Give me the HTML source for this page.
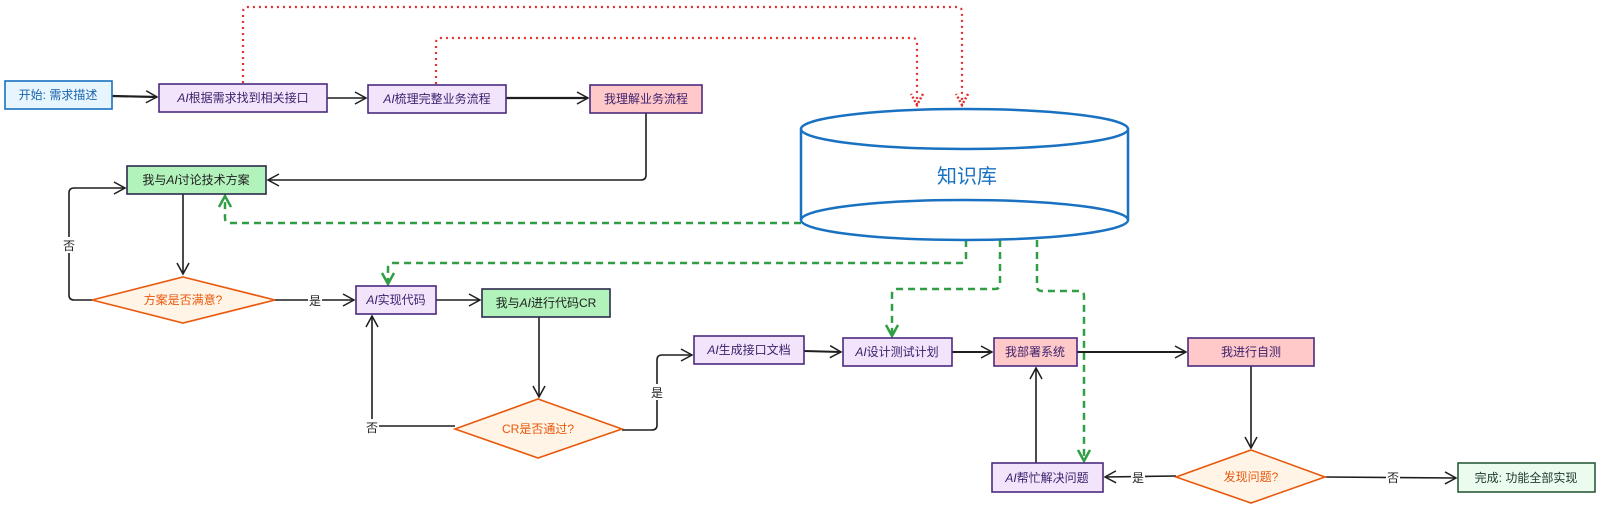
<!DOCTYPE html>
<html><head><meta charset="utf-8"><style>
html,body{margin:0;padding:0;background:#fff;}
svg{display:block;font-family:"Liberation Sans","Noto Sans CJK SC",sans-serif;}
</style></head><body>
<svg width="1600" height="509" viewBox="0 0 1600 509" xmlns="http://www.w3.org/2000/svg">
<defs>
<marker id="a" markerWidth="14" markerHeight="14" refX="12" refY="7" orient="auto" markerUnits="userSpaceOnUse"><path d="M1,1 L12,7 L1,13" fill="none" stroke="#1e1e1e" stroke-width="1.5"/></marker>
<marker id="g" markerWidth="14" markerHeight="14" refX="12" refY="7" orient="auto" markerUnits="userSpaceOnUse"><path d="M1,1 L12,7 L1,13" fill="none" stroke="#2f9e44" stroke-width="2.5"/></marker>
<marker id="r" markerWidth="14" markerHeight="14" refX="12" refY="7" orient="auto" markerUnits="userSpaceOnUse"><path d="M1,1 L12,7 L1,13" fill="none" stroke="#e03131" stroke-width="2.5" stroke-dasharray="2 2"/></marker>
</defs>

<!-- red dotted -->
<g fill="none" stroke="#e03131" stroke-width="2.2" stroke-dasharray="2 4">
<path d="M243,83 L243,12 Q243,7 248,7 L957,7 Q962,7 962,12 L962,105" marker-end="url(#r)"/>
<path d="M436,84 L436,43 Q436,38 441,38 L912,38 Q917,38 917,43 L917,105" marker-end="url(#r)"/>
</g>

<!-- green dashed -->
<g fill="none" stroke="#2f9e44" stroke-width="2.5" stroke-dasharray="7 5">
<path d="M801,223 L230,223 Q225,223 225,218 L225,196" marker-end="url(#g)"/>
<path d="M966,240 L966,258 Q966,263 961,263 L393,263 Q388,263 388,268 L388,284" marker-end="url(#g)"/>
<path d="M1000,240 L1000,284 Q1000,289 995,289 L897,289 Q892,289 892,294 L892,336" marker-end="url(#g)"/>
<path d="M1037,240 L1037,286 Q1037,291 1042,291 L1079,291 Q1084,291 1084,296 L1084,461" marker-end="url(#g)"/>
</g>

<!-- black connectors -->
<g fill="none" stroke="#1e1e1e" stroke-width="1.6">
<path d="M112,96 L157,97" marker-end="url(#a)" stroke-width="2.2"/>
<path d="M327,98 L366,98" marker-end="url(#a)"/>
<path d="M506,98 L588,98" marker-end="url(#a)" stroke-width="2.2"/>
<path d="M646,113 L646,175 Q646,180 641,180 L268,180" marker-end="url(#a)"/>
<path d="M183,194 L183,274" marker-end="url(#a)"/>
<path d="M92,300 L74,300 Q69,300 69,295 L69,193 Q69,188 74,188 L125,188" marker-end="url(#a)"/>
<path d="M275,300 L354,300" marker-end="url(#a)"/>
<path d="M436,300 L480,300" marker-end="url(#a)"/>
<path d="M539,317 L539,397" marker-end="url(#a)"/>
<path d="M455,426 L372,426 L372,316" marker-end="url(#a)"/>
<path d="M622,430 L652,430 Q657,430 657,425 L657,360 Q657,355 662,355 L692,355" marker-end="url(#a)"/>
<path d="M804,351 L841,352" marker-end="url(#a)" stroke-width="2"/>
<path d="M952,352 L992,352" marker-end="url(#a)" stroke-width="2"/>
<path d="M1077,352 L1186,352" marker-end="url(#a)" stroke-width="2"/>
<path d="M1251,366 L1251,448" marker-end="url(#a)"/>
<path d="M1036,463 L1036,368" marker-end="url(#a)"/>
<path d="M1176,476 L1105,477" marker-end="url(#a)"/>
<path d="M1325,477 L1456,478" marker-end="url(#a)"/>
</g>
<g font-size="12" fill="#1e1e1e" text-anchor="middle">
<rect x="62" y="237" width="14" height="16" fill="#fff"/><text x="69" y="250">否</text>
<rect x="308" y="292" width="14" height="16" fill="#fff"/><text x="315" y="305">是</text>
<rect x="365" y="419" width="14" height="16" fill="#fff"/><text x="372" y="432">否</text>
<rect x="650" y="384" width="14" height="16" fill="#fff"/><text x="657" y="397">是</text>
<rect x="1131" y="469" width="14" height="16" fill="#fff"/><text x="1138" y="482">是</text>
<rect x="1386" y="469" width="14" height="16" fill="#fff"/><text x="1393" y="482">否</text>
</g>

<!-- cylinder -->
<g fill="#fff" stroke="#1971c2" stroke-width="2.5">
<path d="M801,129 L801,220 A163.5,20 0 0 0 1128,220 L1128,129"/>
<ellipse cx="964.5" cy="129" rx="163.5" ry="20"/>
<path d="M801,220 A163.5,20 0 0 1 1128,220" fill="none"/>
</g>
<text x="967" y="183" font-size="20" fill="#1971c2" text-anchor="middle">知识库</text>

<!-- boxes -->
<g stroke-width="1.6" font-size="12" text-anchor="middle">
<rect x="5" y="81" width="107" height="28" fill="#e7f5ff" stroke="#1971c2"/><text x="58" y="99" fill="#1864ab" stroke="none">开始: 需求描述</text>
<rect x="159" y="84" width="168" height="28" fill="#f1e4fb" stroke="#4b2a7f"/><text x="243" y="102" fill="#3b1f6b" stroke="none"><tspan font-style="italic">AI</tspan>根据需求找到相关接口</text>
<rect x="368" y="85" width="138" height="28" fill="#f1e4fb" stroke="#4b2a7f"/><text x="437" y="103" fill="#3b1f6b" stroke="none"><tspan font-style="italic">AI</tspan>梳理完整业务流程</text>
<rect x="590" y="85" width="112" height="28" fill="#ffc9c9" stroke="#4b2a7f"/><text x="646" y="103" fill="#3b1f6b" stroke="none">我理解业务流程</text>
<rect x="127" y="166" width="139" height="28" fill="#b2f2bb" stroke="#2b2b4b"/><text x="196" y="184" fill="#1e1e1e" stroke="none">我与<tspan font-style="italic">AI</tspan>讨论技术方案</text>
<rect x="356" y="286" width="80" height="28" fill="#f1e4fb" stroke="#4b2a7f"/><text x="396" y="304" fill="#3b1f6b" stroke="none"><tspan font-style="italic">AI</tspan>实现代码</text>
<rect x="482" y="289" width="128" height="28" fill="#b2f2bb" stroke="#2b2b4b"/><text x="546" y="307" fill="#1e1e1e" stroke="none">我与<tspan font-style="italic">AI</tspan>进行代码CR</text>
<rect x="694" y="336" width="110" height="28" fill="#f1e4fb" stroke="#4b2a7f"/><text x="749" y="354" fill="#3b1f6b" stroke="none"><tspan font-style="italic">AI</tspan>生成接口文档</text>
<rect x="843" y="338" width="109" height="28" fill="#f1e4fb" stroke="#4b2a7f"/><text x="897" y="356" fill="#3b1f6b" stroke="none"><tspan font-style="italic">AI</tspan>设计测试计划</text>
<rect x="994" y="338" width="83" height="28" fill="#ffc9c9" stroke="#4b2a7f"/><text x="1035" y="356" fill="#3b1f6b" stroke="none">我部署系统</text>
<rect x="1188" y="338" width="126" height="28" fill="#ffc9c9" stroke="#4b2a7f"/><text x="1251" y="356" fill="#3b1f6b" stroke="none">我进行自测</text>
<rect x="992" y="463" width="111" height="29" fill="#f1e4fb" stroke="#4b2a7f"/><text x="1047" y="482" fill="#3b1f6b" stroke="none"><tspan font-style="italic">AI</tspan>帮忙解决问题</text>
<rect x="1458" y="463" width="137" height="29" fill="#ebfbee" stroke="#2b5b3b"/><text x="1526" y="482" fill="#1e3a2a" stroke="none">完成: 功能全部实现</text>
</g>

<!-- diamonds -->
<g fill="#fff4e6" stroke="#e8590c" stroke-width="1.6">
<polygon points="183,277 275,300 183,323 92,300"/>
<polygon points="538,399 622,429 538,458 455,429"/>
<polygon points="1251,450 1325,477 1251,503 1176,477"/>
</g>
<g font-size="12" fill="#e8590c" text-anchor="middle">
<text x="183" y="304">方案是否满意?</text>
<text x="538" y="433">CR是否通过?</text>
<text x="1251" y="481">发现问题?</text>
</g>
</svg>
</body></html>
